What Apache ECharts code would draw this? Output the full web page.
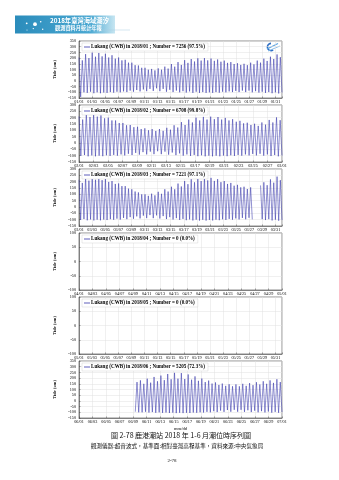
<!DOCTYPE html>
<html><head><meta charset="utf-8">
<script src="https://cdn.jsdelivr.net/npm/echarts@6/dist/echarts.min.js"></script>
<style>html,body{margin:0;padding:0;background:#fff}#c{width:339px;height:480px}</style>
</head><body><div id="c"></div>
<script>
// ---- Data (tidal highs / lows, two of each per day) ----
const janHigh = [205,180,235,200,248,212,245,215,238,205,225,195,205,180,185,160,160,138,135,115,115,98,105,92,110,98,125,108,148,125,165,140,182,158,192,170,198,178,200,180,196,176,188,168,178,158,165,148,155,140,150,138,160,145,178,160,195,175,212,192,232,208];
const janLow = [-140,-100,-105,-95,-108,-100,-108,-102,-105,-98,-103,-95,-100,-92,-98,-85,-95,-80,-92,-75,-90,-70,-88,-65,-90,-70,-95,-78,-98,-85,-100,-90,-102,-92,-105,-95,-105,-98,-105,-100,-105,-98,-103,-95,-100,-92,-98,-88,-98,-85,-98,-85,-100,-90,-102,-95,-105,-98,-108,-100,-110,-102];
const febHigh = [210,185,234,205,232,208,218,195,200,178,178,158,158,140,142,125,128,110,116,100,110,95,110,96,120,105,140,122,165,142,185,162,200,178,206,185,208,188,205,185,198,178,188,168,175,155,160,142,152,135,162,145,182,162,202,180];
const febLow = [-102,-95,-105,-98,-105,-100,-104,-97,-102,-94,-100,-90,-98,-85,-95,-78,-92,-72,-90,-68,-88,-65,-88,-68,-92,-75,-96,-82,-100,-90,-102,-94,-104,-97,-105,-100,-105,-100,-105,-99,-104,-97,-102,-94,-100,-90,-98,-86,-98,-85,-100,-90,-103,-95,-105,-99];
const marHigh = [215,190,235,208,240,215,235,212,222,198,205,182,186,165,165,145,140,122,115,100,100,88,105,92,120,104,140,122,160,140,185,162,205,180,220,195,230,205,235,210,230,206,220,196,205,182,190,168,175,155,160,142,155,null,null,170,195,172,218,192,240,212];
const marLow = [-102,-95,-105,-98,-106,-100,-105,-99,-103,-96,-101,-92,-99,-86,-96,-80,-93,-74,-90,-68,-88,-64,-88,-66,-91,-72,-95,-80,-99,-88,-102,-94,-104,-98,-106,-100,-107,-101,-107,-102,-106,-100,-104,-97,-102,-94,-100,-90,-98,-86,-97,-85,-98,null,null,-96,-103,-96,-106,-100,-108,-103];
const aprHigh = [];
const aprLow = [];
const mayHigh = [];
const mayLow = [];
const junHigh = [null,null,null,null,null,null,null,null,null,null,null,null,null,null,null,null,null,165,180,150,195,160,210,172,222,182,236,190,246,195,244,192,232,186,215,176,196,165,178,152,162,140,152,132,146,128,145,128,150,132,156,138,164,144,172,150,180,158,190,165];
const junLow = [null,null,null,null,null,null,null,null,null,null,null,null,null,null,null,null,-95,-100,-100,-95,-102,-98,-104,-100,-105,-102,-106,-103,-107,-104,-107,-104,-106,-102,-104,-100,-102,-96,-100,-90,-98,-85,-96,-80,-95,-78,-95,-78,-96,-82,-98,-86,-100,-90,-101,-93,-103,-96,-104,-98];

const monthLabels = ['2018/01','2018/02','2018/03','2018/04','2018/05','2018/06'];
const monthDays = [31,28,31,30,31,30];
const countTexts = ['7256 (97.5%)','6708 (99.8%)','7221 (97.1%)','0 (0.0%)','0 (0.0%)','5205 (72.3%)'];
const yMins = [-150,-150,-150,-100,-100,-150];
const yMaxs = [350,300,300,100,100,350];

const janTicks = ['01/01','01/03','01/05','01/07','01/09','01/11','01/13','01/15','01/17','01/19','01/21','01/23','01/25','01/27','01/29','01/31'];
const febTicks = ['02/01','02/03','02/05','02/07','02/09','02/11','02/13','02/15','02/17','02/19','02/21','02/23','02/25','02/27','03/01'];
const marTicks = ['03/01','03/03','03/05','03/07','03/09','03/11','03/13','03/15','03/17','03/19','03/21','03/23','03/25','03/27','03/29','03/31'];
const aprTicks = ['04/01','04/03','04/05','04/07','04/09','04/11','04/13','04/15','04/17','04/19','04/21','04/23','04/25','04/27','04/29','05/01'];
const mayTicks = ['05/01','05/03','05/05','05/07','05/09','05/11','05/13','05/15','05/17','05/19','05/21','05/23','05/25','05/27','05/29','05/31'];
const junTicks = ['06/01','06/03','06/05','06/07','06/09','06/11','06/13','06/15','06/17','06/19','06/21','06/23','06/25','06/27','06/29','07/01'];

// ---- Build ----
const highs = [janHigh,febHigh,marHigh,aprHigh,mayHigh,junHigh];
const lows = [janLow,febLow,marLow,aprLow,mayLow,junLow];
const ticks = [janTicks,febTicks,marTicks,aprTicks,mayTicks,junTicks];
const tops = [41,105,169,233,297,361];
const PH = 57;
const LINE = '#3636aa';
const SERIF = 'Liberation Serif';

function interleave(h, l){ const out=[]; for(let i=0;i<h.length;i++){ out.push(h[i]); out.push(l[i]); } return out; }

const grid=[], xAxis=[], yAxis=[], series=[], legend=[];
for(let i=0;i<6;i++){
  const data = interleave(highs[i], lows[i]);
  const name = 'Lukang (CWB) in ' + monthLabels[i] + ' ; Number = ' + countTexts[i];
  const tk = ticks[i];
  grid.push({left:79, width:203, top:tops[i], height:PH, show:true, borderColor:'#444', borderWidth:0.6, backgroundColor:'rgba(0,0,0,0)'});
  xAxis.push({type:'value', gridIndex:i, min:0, max:monthDays[i], interval:2,
    axisLine:{show:true, onZero:false, lineStyle:{color:'#444', width:0.6}},
    axisTick:{show:true, inside:true, length:1.5, lineStyle:{color:'#444', width:0.5}},
    axisLabel:{fontSize:4.2, margin:2, color:'#000', fontFamily:SERIF,
      formatter:(v)=>{ const k=Math.round(v/2); return (Math.abs(v-2*k)<1e-6 && tk[k]) ? tk[k] : ''; }},
    splitLine:{show:true, lineStyle:{color:'#e0e0e0', width:0.5}},
    name: i===5 ? 'mm/dd' : '', nameLocation:'middle', nameGap:8,
    nameTextStyle:{fontSize:4.5, fontFamily:SERIF, color:'#000'}
  });
  xAxis.push({type:'category', gridIndex:i, show:false, boundaryGap:false, data: data.map((_,k)=>k)});
  yAxis.push({type:'value', gridIndex:i, min:yMins[i], max:yMaxs[i], interval:50,
    axisLine:{show:true, onZero:false, lineStyle:{color:'#444', width:0.6}},
    axisTick:{show:true, inside:true, length:1.5, lineStyle:{color:'#444', width:0.5}},
    axisLabel:{fontSize:4.2, margin:3, color:'#000', fontFamily:SERIF},
    splitLine:{show:true, lineStyle:{color:'#e0e0e0', width:0.5}},
    name:'Tide (cm)', nameLocation:'middle', nameGap:10, nameRotate:90,
    nameTextStyle:{fontSize:4.6, fontWeight:'bold', fontFamily:SERIF, color:'#000'}
  });
  series.push({type:'line', name:name, xAxisIndex:2*i+1, yAxisIndex:i, data:data,
    showSymbol:false, symbol:'none', connectNulls:false, animation:false,
    lineStyle:{color:LINE, width:0.55}, itemStyle:{color:LINE}});
  legend.push({data:[name], left:82, top:tops[i]+2, icon:'rect', itemWidth:6, itemHeight:0.8, itemGap:0,
    padding:[1.5,3,1.5,2], backgroundColor:'#fff', borderColor:'#bbb', borderWidth:0.3,
    selectedMode:false,
    textStyle:{fontFamily:SERIF, fontWeight:'bold', fontSize:5.1, color:'#000', padding:[0,0,0,-4]}});
}

const graphic = [
  {type:'rect', shape:{x:15, y:15.5, width:100, height:18},
   style:{fill:{type:'linear', x:0, y:0, x2:1, y2:0, colorStops:[{offset:0,color:'#2b8cbb'},{offset:0.75,color:'#4aa8d2'},{offset:1,color:'#c7e6f2'}]}}},
  {type:'line', shape:{x1:100, y1:30, x2:130, y2:30}, style:{stroke:'#a9cfe0', lineWidth:0.5}},
  {type:'circle', shape:{cx:26.7, cy:23.3, r:0.9}, style:{fill:'#fff'}},
  {type:'circle', shape:{cx:35, cy:24.2, r:1.9}, style:{fill:'#fff'}},
  {type:'circle', shape:{cx:40.7, cy:21.7, r:0.8}, style:{fill:'#fff'}},
  {type:'circle', shape:{cx:33.3, cy:28.6, r:0.7}, style:{fill:'#fff'}},
  {type:'circle', shape:{cx:42.7, cy:29.3, r:0.7}, style:{fill:'#fff'}},
  {type:'circle', shape:{cx:27, cy:30, r:0.5}, style:{fill:'#fff'}},
  {type:'text', style:{x:50, y:21, text:'2018年臺灣海域潮汐', fill:'#fff', font:'bold 6.3px "Noto Sans CJK TC"', textAlign:'left', textVerticalAlign:'middle'}},
  {type:'text', style:{x:55, y:28.5, text:'觀測資料月統計年報', fill:'#fff', font:'bold 5.2px "Noto Sans CJK TC"', textAlign:'left', textVerticalAlign:'middle'}},
  // CWB logo (approximation)
  {type:'arc', shape:{cx:271, cy:47, r:3.6, startAngle:Math.PI*0.3, endAngle:Math.PI*1.5}, style:{stroke:'#2f6fc4', lineWidth:1.6, fill:null}},
  {type:'polyline', shape:{points:[[267,49],[272,46.5],[278,43.5]]}, style:{stroke:'#5aa3e2', lineWidth:1.1, fill:null}},
  {type:'polyline', shape:{points:[[268,51],[274,48.5],[280,46]]}, style:{stroke:'#7fb8ea', lineWidth:0.9, fill:null}},
  // captions
  {type:'text', style:{x:181, y:435, text:'圖 2-78 鹿港潮站 2018 年 1-6 月潮位時序列圖', fill:'#111', font:'7px "Noto Sans CJK TC"', textAlign:'center', textVerticalAlign:'middle'}},
  {type:'text', style:{x:177, y:446, text:'觀測儀器:超音波式，基準面:相對臺灣高程基準，資料來源:中央氣象局', fill:'#111', font:'5.6px "Noto Sans CJK TC"', textAlign:'center', textVerticalAlign:'middle'}},
  {type:'text', style:{x:172, y:461, text:'2-78', fill:'#111', font:'5px "Liberation Serif"', textAlign:'center', textVerticalAlign:'middle'}}
];

const chart = echarts.init(document.getElementById('c'), null, {renderer:'canvas'});
chart.setOption({animation:false, backgroundColor:'#fff', grid, xAxis, yAxis, series, legend, graphic});
</script></body></html>
